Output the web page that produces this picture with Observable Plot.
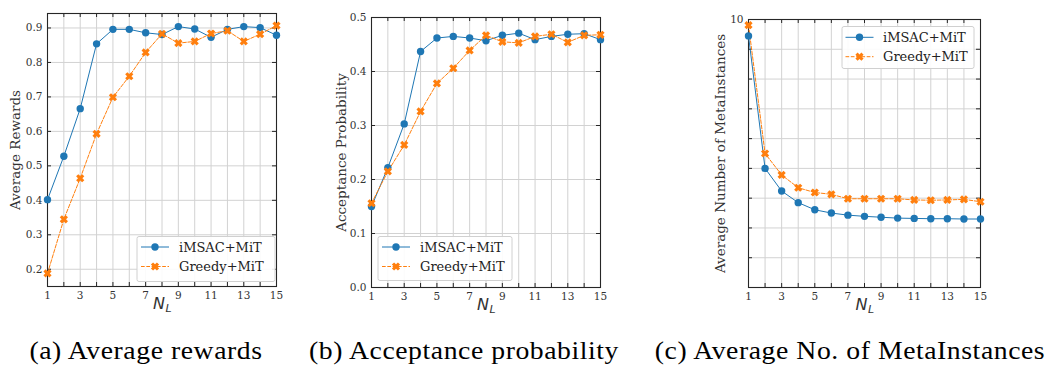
<!DOCTYPE html>
<html>
<head>
<meta charset="utf-8">
<script src="https://cdn.jsdelivr.net/npm/d3@7"></script>
<script src="https://cdn.jsdelivr.net/npm/@observablehq/plot@0.6"></script>
<style>
  body { margin: 0; background: #fff; }
  #root { position: relative; width: 1047px; height: 365px; overflow: hidden; background: #fff; }
  .panel { position: absolute; top: 0; overflow: visible; }
  .cap { position: absolute; top: 339px; font-family: "Liberation Serif", serif; font-size: 24.5px; letter-spacing: 0.5px; color: #000; white-space: nowrap; transform: translateX(-50%) scaleX(1.13); line-height: 1; }
  #overlay { position: absolute; left: 0; top: 0; pointer-events: none; }
</style>
</head>
<body>
<div id="root"></div>
<script>
// ---------------- data ----------------
const NL = [1, 2, 3, 4, 5, 6, 7, 8, 9, 10, 11, 12, 13, 14, 15];
const seriesNames = ["iMSAC+MiT", "Greedy+MiT"];

const rewardIMSAC  = [0.402, 0.528, 0.666, 0.854, 0.896, 0.896, 0.886, 0.881, 0.904, 0.897, 0.873, 0.896, 0.904, 0.901, 0.879];
const rewardGreedy = [0.188, 0.345, 0.464, 0.593, 0.699, 0.760, 0.829, 0.883, 0.856, 0.861, 0.884, 0.892, 0.861, 0.882, 0.907];

const accIMSAC  = [0.150, 0.222, 0.303, 0.437, 0.462, 0.465, 0.462, 0.457, 0.467, 0.471, 0.459, 0.465, 0.469, 0.470, 0.459];
const accGreedy = [0.156, 0.215, 0.264, 0.326, 0.378, 0.406, 0.439, 0.467, 0.455, 0.453, 0.465, 0.469, 0.454, 0.467, 0.468];

const instIMSAC  = [9.45, 5.00, 4.24, 3.85, 3.61, 3.50, 3.43, 3.39, 3.36, 3.33, 3.32, 3.31, 3.31, 3.30, 3.30];
const instGreedy = [9.81, 5.50, 4.78, 4.35, 4.19, 4.13, 3.98, 3.98, 3.98, 3.98, 3.94, 3.93, 3.94, 3.96, 3.88];

const xTickLabels = [1, 3, 5, 7, 9, 11, 13, 15];
const yTicksA = [0.2, 0.3, 0.4, 0.5, 0.6, 0.7, 0.8, 0.9];
const yTicksB = [0.0, 0.1, 0.2, 0.3, 0.4, 0.5];
const yTicksC = [1, 2, 3, 4, 5, 6, 7, 8, 9, 10];
const yTickLabelsC = [10];

const yLabels = ["Average Rewards", "Acceptance Probability", "Average Number of MetaInstances"];
const captions = ["(a) Average rewards", "(b) Acceptance probability", "(c) Average No. of MetaInstances"];

// ---------------- styling ----------------
const BLUE = "#1f77b4", ORANGE = "#ff7f0e";
const GRID = "#d2d2d2", FRAME = "#262626", TEXT = "#333";
const SERIF = "DejaVu Serif";

const xSymbol = {
  draw(context, size) {
    const r = Math.sqrt(size / Math.PI);
    const a = r * 1.15, t = r * 0.42;
    const pts = [[t,t],[t,a],[-t,a],[-t,t],[-a,t],[-a,-t],[-t,-t],[-t,-a],[t,-a],[t,-t],[a,-t],[a,t]];
    const c = Math.SQRT1_2;
    pts.forEach(([x, y], i) => {
      const X = (x - y) * c, Y = (x + y) * c;
      i ? context.lineTo(X, Y) : context.moveTo(X, Y);
    });
    context.closePath();
  }
};

function table(ys, name) { return NL.map((x, i) => ({x, y: ys[i], s: name})); }

function panel(cfg) {
  const fw = cfg.width - cfg.ml - cfg.mr;
  const fh = cfg.height - cfg.mt - cfg.mb;
  const A = table(cfg.a, seriesNames[0]);
  const B = table(cfg.b, seriesNames[1]);
  const T = 4;
  const svg = Plot.plot({
    width: cfg.width, height: cfg.height,
    marginLeft: cfg.ml, marginRight: cfg.mr, marginTop: cfg.mt, marginBottom: cfg.mb,
    x: {domain: [1, 15]},
    y: {domain: cfg.yDomain},
    style: {fontFamily: SERIF, fontSize: "10.5px", color: TEXT, background: "transparent", overflow: "visible"},
    marks: [
      Plot.gridX(NL, {stroke: GRID, strokeOpacity: 1, strokeWidth: 1}),
      Plot.gridY(cfg.yTicks, {stroke: GRID, strokeOpacity: 1, strokeWidth: 1}),
      Plot.ruleX(NL, {x: d => d, insetTop: fh - T, stroke: FRAME}),
      Plot.ruleX(NL, {x: d => d, insetBottom: fh - T, stroke: FRAME}),
      Plot.ruleY(cfg.yTicks, {y: d => d, insetRight: fw - T, stroke: FRAME}),
      Plot.ruleY(cfg.yTicks, {y: d => d, insetLeft: fw - T, stroke: FRAME}),
      Plot.frame({stroke: FRAME, strokeWidth: 1.1}),
      Plot.line(A, {x: "x", y: "y", stroke: BLUE, strokeWidth: 1}),
      Plot.line(B, {x: "x", y: "y", stroke: ORANGE, strokeWidth: 1, strokeDasharray: "3.7,1.6"}),
      Plot.dot(A, {x: "x", y: "y", r: 3.7, fill: BLUE, symbol: "circle"}),
      Plot.dot(B, {x: "x", y: "y", r: 3.7, fill: ORANGE, symbol: xSymbol}),
      Plot.axisX(xTickLabels, {tickSize: 0, tickPadding: 5, label: null, fill: TEXT}),
      Plot.axisY(cfg.yTickLabels, {tickSize: 0, tickPadding: 5, label: null, tickFormat: cfg.fmt, fill: TEXT}),
      Plot.text([cfg.yLabel], {frameAnchor: "left", text: d => d, rotate: -90, textAnchor: "middle", lineAnchor: "middle", dx: cfg.ylx, fontSize: 13.5, fill: TEXT, fontFamily: SERIF}),
      Plot.text(["N"], {frameAnchor: "bottom", text: d => d, dx: -3, dy: 22, fontSize: 16, fontStyle: "italic", fontFamily: "DejaVu Sans", fill: TEXT}),
      Plot.text(["L"], {frameAnchor: "bottom", text: d => d, dx: 6.5, dy: 25.5, fontSize: 11, fontStyle: "italic", fontFamily: "DejaVu Sans", fill: TEXT})
    ]
  });
  svg.classList.add("panel");
  svg.style.left = cfg.left + "px";
  return svg;
}

const root = document.getElementById("root");

root.appendChild(panel({
  left: 0, width: 300, height: 320, ml: 47, mr: 24, mt: 13, mb: 34,
  a: rewardIMSAC, b: rewardGreedy, yDomain: [0.15, 0.942],
  yTicks: yTicksA, yTickLabels: yTicksA, fmt: d3.format(".1f"),
  yLabel: yLabels[0], ylx: -32
}));
root.appendChild(panel({
  left: 300, width: 330, height: 320, ml: 71, mr: 30, mt: 17, mb: 33,
  a: accIMSAC, b: accGreedy, yDomain: [0, 0.5],
  yTicks: yTicksB, yTickLabels: yTicksB, fmt: d3.format(".1f"),
  yLabel: yLabels[1], ylx: -29.5
}));
root.appendChild(panel({
  left: 680, width: 367, height: 320, ml: 68, mr: 67, mt: 19, mb: 33,
  a: instIMSAC, b: instGreedy, yDomain: [1, 10],
  yTicks: yTicksC, yTickLabels: yTickLabelsC, fmt: d => String(d),
  yLabel: yLabels[2], ylx: -28
}));

// ---------------- legends ----------------
const overlay = d3.select(root).append("svg").attr("id", "overlay").attr("width", 1047).attr("height", 365);
const legends = [
  {x: 137, y: 236.5, w: 138, h: 45, r1: 247, r2: 266.5, m: 155, t: 179},
  {x: 378, y: 236.5, w: 134, h: 44, r1: 247, r2: 266.5, m: 396, t: 420},
  {x: 842, y: 26.5, w: 132, h: 42, r1: 37.3, r2: 56.7, m: 859.5, t: 883}
];
legends.forEach(L => {
  const g = overlay.append("g");
  g.append("rect").attr("x", L.x).attr("y", L.y).attr("width", L.w).attr("height", L.h)
    .attr("rx", 2).attr("fill", "#fff").attr("fill-opacity", 0.9).attr("stroke", "#d0d0d0").attr("stroke-width", 1);
  g.append("line").attr("x1", L.m - 14).attr("x2", L.m + 14).attr("y1", L.r1).attr("y2", L.r1)
    .attr("stroke", BLUE).attr("stroke-width", 1);
  g.append("circle").attr("cx", L.m).attr("cy", L.r1).attr("r", 3.7).attr("fill", BLUE);
  g.append("line").attr("x1", L.m - 14).attr("x2", L.m + 14).attr("y1", L.r2).attr("y2", L.r2)
    .attr("stroke", ORANGE).attr("stroke-width", 1).attr("stroke-dasharray", "3.7,1.6");
  g.append("path").attr("transform", `translate(${L.m},${L.r2})`)
    .attr("d", d3.symbol(xSymbol, 3.7 * 3.7 * Math.PI)()).attr("fill", ORANGE);
  [seriesNames[0], seriesNames[1]].forEach((name, i) => {
    g.append("text").attr("x", L.t).attr("y", i ? L.r2 : L.r1).attr("dy", "0.35em")
      .attr("font-family", SERIF).attr("font-size", 13).attr("fill", "#222").text(name);
  });
});

// ---------------- captions ----------------
[[146, captions[0]], [464, captions[1]], [850, captions[2]]].forEach(([cx, txt]) => {
  const d = document.createElement("div");
  d.className = "cap";
  d.style.left = cx + "px";
  d.textContent = txt;
  root.appendChild(d);
});
</script>
</body>
</html>
